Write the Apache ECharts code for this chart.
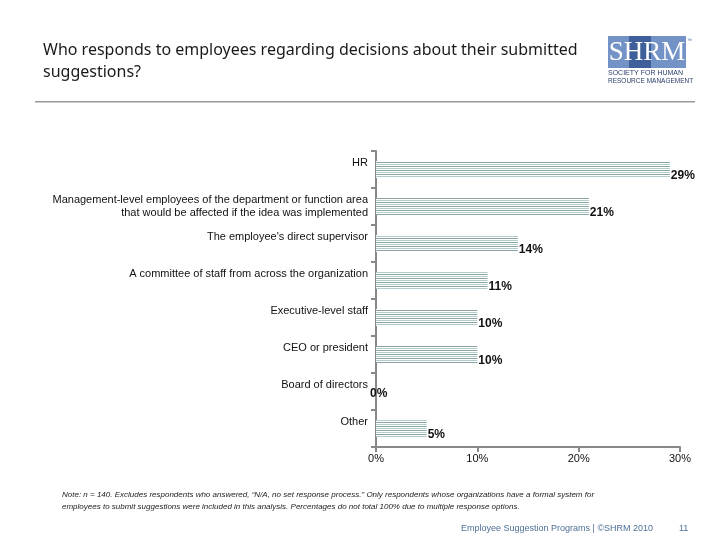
<!DOCTYPE html>
<html><head><meta charset="utf-8">
<script src="https://cdn.jsdelivr.net/npm/echarts@6/dist/echarts.min.js"></script>
<style>html,body{margin:0;padding:0;background:#fff}#c{width:720px;height:540px}</style>
</head><body><div id="c"></div>
<script>
var categories = ["HR","Management-level employees of the department or function area\nthat would be affected if the idea was implemented","The employee's direct supervisor","A committee of staff from across the organization","Executive-level staff","CEO or president","Board of directors","Other"];
var values = [29,21,14,11,10,10,0,5];
var xTicks = [0,10,20,30];

var pc = document.createElement('canvas'); pc.width = 4; pc.height = 4;
var g = pc.getContext('2d');
g.fillStyle = '#ffffff'; g.fillRect(0,0,4,4);
g.fillStyle = '#b4cbcb'; g.fillRect(0,0,4,1);
g.fillStyle = '#8aa3a3'; g.fillRect(0,2,4,1);

var chart = echarts.init(document.getElementById('c'));
var data = values.map(function(v){
  var d = {value:v};
  if (v === 0) d.label = {offset:[-7,2]};
  return d;
});
chart.setOption({
  animation:false,
  textStyle:{fontFamily:'Liberation Sans, Arial'},
  grid:{left:376,right:40,top:151,bottom:93,containLabel:false},
  xAxis:{type:'value',min:0,max:30,interval:10,
    axisLine:{show:true,lineStyle:{color:'#888',width:2}},
    axisTick:{show:true,length:5,lineStyle:{color:'#888',width:2}},
    splitLine:{show:false},
    axisLabel:{color:'#111',fontSize:11,margin:6,formatter:function(v){return xTicks.indexOf(v)>=0? v+'%':'';}}
  },
  yAxis:{type:'category',data:categories,inverse:true,
    axisLine:{show:true,lineStyle:{color:'#888',width:2}},
    axisTick:{show:true,length:5,inside:false,lineStyle:{color:'#888',width:2}},
    axisLabel:{color:'#111',fontSize:11,margin:8,lineHeight:13,
      formatter:function(v){return v.indexOf('\n')>=0? v : '{a|'+v+'}';},
      rich:{a:{fontSize:11,color:'#111',padding:[0,0,13,0]}}
    }
  },
  series:[{type:'bar',data:data,barWidth:17,
    itemStyle:{color:{image:pc,repeat:'repeat'}},
    label:{show:true,position:'right',distance:1,offset:[0,6],formatter:'{c}%',color:'#111',fontSize:12,fontWeight:'bold'}
  }],
  graphic:[
    {type:'text',left:43,top:39,style:{text:'Who responds to employees regarding decisions about their submitted\nsuggestions?',font:'16px "Noto Sans"',fill:'#1a1a1a',lineHeight:22}},
    {type:'rect',shape:{x:35,y:101,width:660,height:1.5},style:{fill:'#9a9a9a'}},
    {type:'rect',shape:{x:608,y:36,width:78,height:32},style:{fill:'#7393c6'}},
    {type:'rect',shape:{x:629,y:36,width:22,height:32},style:{fill:'#3e5f99'}},
    {type:'text',x:647,y:53,style:{text:'SHRM',font:'27px "Liberation Serif"',fill:'#fff',align:'center',verticalAlign:'middle'}},
    {type:'text',x:687,y:38,style:{text:'™',font:'5px sans-serif',fill:'#3e5f99'}},
    {type:'text',x:608,y:70,style:{text:'SOCIETY FOR HUMAN',font:'7px "Liberation Sans Narrow", "Liberation Sans"',fill:'#2a3f6a'}},
    {type:'text',x:608,y:78,style:{text:'RESOURCE MANAGEMENT',font:'6.5px "Liberation Sans Narrow", "Liberation Sans"',fill:'#2a3f6a'}},
    {type:'text',x:62,y:489,style:{text:'Note: n = 140. Excludes respondents who answered, “N/A, no set response process.” Only respondents whose organizations have a formal system for\nemployees to submit suggestions were included in this analysis. Percentages do not total 100% due to multiple response options.',font:'italic 8px "Liberation Sans"',fill:'#222',lineHeight:12}},
    {type:'text',x:461,y:524,style:{text:'Employee Suggestion Programs | ©SHRM 2010',font:'9px "Liberation Sans"',fill:'#4e6f95'}},
    {type:'text',x:679,y:524,style:{text:'11',font:'9px "Liberation Sans"',fill:'#4e6f95'}}
  ]
});
</script></body></html>
